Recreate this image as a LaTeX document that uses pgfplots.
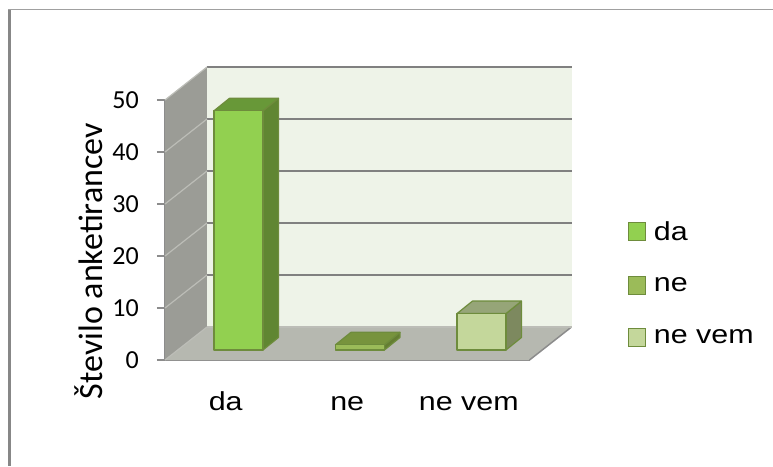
\documentclass[border=0pt]{standalone}
\usepackage{pgfplots}
\pgfplotsset{compat=1.18}
\usepackage{fontspec}
\setmainfont{Liberation Sans}
\newfontfamily\arialS[FakeStretch=1.17]{Liberation Sans}
\newfontfamily\calib{Carlito}
\definecolor{wallback}{RGB}{238,243,232}
\definecolor{wallleft}{RGB}{155,156,150}
\definecolor{floorc}{RGB}{182,184,176}
\definecolor{gridc}{RGB}{128,128,128}
\definecolor{sidegrid}{RGB}{188,189,183}
\definecolor{edgec}{RGB}{140,140,140}
\definecolor{bord}{RGB}{110,140,60}
\definecolor{daF}{RGB}{146,208,80}
\definecolor{daT}{RGB}{104,152,56}
\definecolor{daS}{RGB}{96,134,50}
\definecolor{neF}{RGB}{155,187,89}
\definecolor{neT}{RGB}{119,147,61}
\definecolor{neS}{RGB}{100,125,50}
\definecolor{nvF}{RGB}{196,215,155}
\definecolor{nvT}{RGB}{150,165,120}
\definecolor{nvS}{RGB}{125,137,95}
\definecolor{frame}{RGB}{160,160,160}
\definecolor{frameL}{RGB}{135,135,135}

\newcommand\barbox[3]{%
  \pgfmathsetmacro\hh{\rawy*5.2}%
  \pgfsetlinewidth{1.2pt}\pgfsetroundjoin
  \pgfsetstrokecolor{bord}%
  \pgfsetfillcolor{#3}%
  \pgfpathmoveto{\pgfpoint{37.2pt}{10pt}}%
  \pgfpathlineto{\pgfpoint{52.7pt}{22.5pt}}%
  \pgfpathlineto{\pgfpoint{52.7pt}{22.5pt-\hh pt}}%
  \pgfpathlineto{\pgfpoint{37.2pt}{10pt-\hh pt}}%
  \pgfpathclose\pgfusepath{fill,stroke}%
  \pgfsetfillcolor{#2}%
  \pgfpathmoveto{\pgfpoint{-11.8pt}{10pt}}%
  \pgfpathlineto{\pgfpoint{37.2pt}{10pt}}%
  \pgfpathlineto{\pgfpoint{52.7pt}{22.5pt}}%
  \pgfpathlineto{\pgfpoint{3.7pt}{22.5pt}}%
  \pgfpathclose\pgfusepath{fill,stroke}%
  \pgfsetfillcolor{#1}%
  \pgfpathrectanglecorners{\pgfpoint{-11.8pt}{10pt-\hh pt}}{\pgfpoint{37.2pt}{10pt}}%
  \pgfusepath{fill,stroke}%
}
\pgfdeclareplotmark{barDa}{\barbox{daF}{daT}{daS}}
\pgfdeclareplotmark{barNe}{\barbox{neF}{neT}{neS}}
\pgfdeclareplotmark{barNv}{\barbox{nvF}{nvT}{nvS}}

\begin{document}
\begin{tikzpicture}
\useasboundingbox (0,0) rectangle (773pt,466pt);
\draw[frame, line width=1pt] (8pt,456pt) -- (773pt,456pt);
\draw[frameL, line width=3pt] (9.5pt,456pt) -- (9.5pt,0pt);
\begin{axis}[
  at={(165pt,106pt)}, anchor=south west,
  x=121.5pt, y=5.2pt,
  xmin=-0.5, xmax=2.5, ymin=0, ymax=50,
  clip=false,
  axis lines*=left,
  axis line style={draw=edgec, line width=1.5pt},
  xtick={0,1,2}, xticklabels={da,ne,ne vem},
  xtick style={draw=none},
  ytick={0,10,20,30,40,50},
  ytick style={draw=edgec, line width=1.2pt},
  tick align=outside, major tick length=8pt,
  /pgf/number format/assume math mode=true,
  yticklabel style={font=\calib\fontsize{26}{30}\selectfont, inner sep=0pt, xshift=-18pt},
  xticklabel style={font=\arialS\fontsize{26}{31}\selectfont, inner sep=0pt, anchor=base, yshift=-42pt},
  ylabel={Število anketirancev},
  ylabel style={font=\calib\fontsize{34}{39}\selectfont, at={(ticklabel cs:0.38,9pt)}, anchor=south, inner sep=0pt},
  legend style={draw=none, fill=none, inner sep=0pt, outer sep=0pt,
    at={(axis description cs:1.27,0.54)}, anchor=north west,
    font=\arialS\fontsize{26}{31}\selectfont, row sep=32pt,
    /tikz/every odd column/.append style={column sep=6pt}},
  legend cell align=left,
]
% walls and floor
\fill[wallleft] (axis cs:-0.5,0) -- (axis cs:-0.5,50) -- (axis cs:-0.1543,56.346) -- (axis cs:-0.1543,6.346) -- cycle;
\fill[wallback] (axis cs:-0.1543,6.346) rectangle (axis cs:2.8457,56.346);
\fill[floorc] (axis cs:-0.5,0) -- (axis cs:2.5,0) -- (axis cs:2.8457,6.346) -- (axis cs:-0.1543,6.346) -- cycle;
\draw[edgec, line width=1.5pt] (axis cs:2.5,0) -- (axis cs:2.8457,6.346);
\draw[sidegrid, line width=1.2pt] (axis cs:-0.1543,6.346) -- (axis cs:2.8457,6.346);
\foreach \v in {10,20,30,40,50} {
  \edef\tmp{\noexpand\draw[gridc, line width=2pt] (axis cs:-0.1543,\v+6.346) -- (axis cs:2.8457,\v+6.346);
  \noexpand\draw[sidegrid, line width=1.2pt] (axis cs:-0.5,\v) -- (axis cs:-0.1543,\v+6.346);}
  \tmp
}
\draw[sidegrid, line width=1.2pt] (axis cs:-0.5,0) -- (axis cs:-0.1543,6.346);
% bars
\addplot[scatter, only marks, mark=barDa,
  visualization depends on={\thisrow{y}\as\rawy},
  legend image code/.code={\draw[fill=daF, draw=bord, line width=1pt] (0pt,-9pt) rectangle (17pt,9pt);}]
  table[row sep=\\] {x y\\ 0 46\\};
\addlegendentry{da}
\addplot[scatter, only marks, mark=barNe,
  visualization depends on={\thisrow{y}\as\rawy},
  legend image code/.code={\draw[fill=neF, draw=bord, line width=1pt] (0pt,-9pt) rectangle (17pt,9pt);}]
  table[row sep=\\] {x y\\ 1 1\\};
\addlegendentry{ne}
\addplot[scatter, only marks, mark=barNv,
  visualization depends on={\thisrow{y}\as\rawy},
  legend image code/.code={\draw[fill=nvF, draw=bord, line width=1pt] (0pt,-9pt) rectangle (17pt,9pt);}]
  table[row sep=\\] {x y\\ 2 7\\};
\addlegendentry{ne vem}
\end{axis}
\end{tikzpicture}
\end{document}
